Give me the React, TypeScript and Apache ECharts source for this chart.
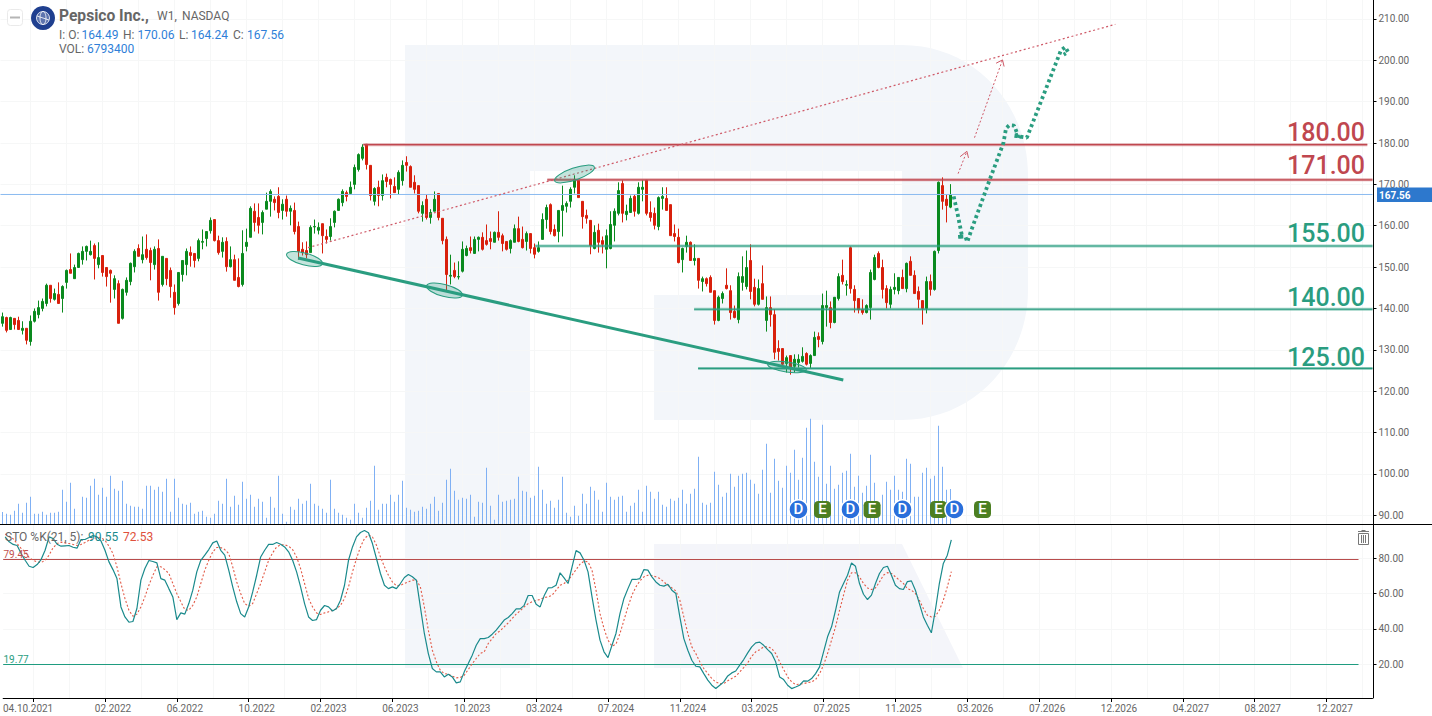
import React, { useEffect, useRef } from "react";
import * as echarts from "echarts";

const TOTAL_SLOTS = 343;
const tickLabels = ["04.10.2021","02.2022","06.2022","10.2022","02.2023","06.2023","10.2023","03.2024","07.2024","11.2024","03.2025","07.2025","11.2025","03.2026","07.2026","12.2026","04.2027","08.2027","12.2027"];
const priceTicks = [90,100,110,120,130,140,150,160,170,180,190,200,210];
const stochTicks = [20,40,60,80];

// weekly [open, close, low, high]
const ohlc: number[][] = [
[136.4,138.0,135.6,139.0],[137.8,134.7,134.2,138.0],[134.9,137.8,134.9,138.0],[137.6,136.1,134.9,137.6],[137.1,134.9,134.9,138.0],[134.7,135.2,133.7,136.9],[135.2,132.3,131.3,135.2],[132.0,136.9,131.0,138.3],[136.9,139.3,136.6,140.0],[138.5,140.2,137.6,141.9],
[140.0,141.7,139.3,142.4],[141.2,145.6,140.5,146.0],[145.6,142.4,141.4,145.6],[142.2,143.6,141.9,144.8],[143.4,141.2,141.2,146.3],[142.4,145.3,139.0,145.6],[146.3,149.2,144.8,149.4],[149.4,148.5,148.5,153.3],[147.2,149.9,147.2,150.6],[149.9,153.3,149.9,153.5],
[151.8,153.8,150.6,155.0],[153.8,155.0,151.6,155.2],[153.0,153.8,152.8,156.4],[155.2,152.1,147.0,155.7],[150.6,152.3,149.7,156.0],[152.8,148.7,147.7,152.8],[149.9,147.7,145.3,149.9],[149.2,148.5,141.4,149.4],[144.6,147.2,142.4,148.0],[146.0,136.4,136.4,146.8],
[137.6,144.6,137.3,144.8],[143.9,146.8,143.1,147.5],[146.5,150.9,145.6,151.1],[150.1,153.8,148.7,154.3],[154.5,152.6,152.6,155.5],[151.8,153.0,150.9,157.4],[154.3,152.3,151.8,157.9],[154.0,151.1,146.8,154.7],[150.6,154.3,149.4,155.0],[154.5,143.9,141.9,156.7],
[145.8,152.6,145.3,152.6],[152.1,147.2,145.6,152.1],[149.2,145.3,142.6,149.9],[143.9,140.2,138.5,145.8],[141.2,148.7,140.7,148.7],[148.2,151.6,146.5,151.6],[150.6,153.8,148.0,154.5],[153.5,152.8,150.1,155.0],[153.3,151.6,149.9,153.3],[152.1,156.4,151.4,156.9],
[156.0,156.2,154.3,159.1],[156.9,158.6,155.0,158.6],[158.8,161.3,158.1,162.0],[161.5,156.4,156.2,161.5],[156.4,153.5,153.0,157.6],[153.8,156.0,152.3,157.2],[156.2,150.1,148.9,157.2],[150.1,151.8,149.9,155.0],[151.8,146.8,146.8,153.0],[147.5,145.3,145.1,152.1],
[145.8,153.3,145.3,158.9],[155.0,156.0,153.8,159.3],[157.2,164.2,157.2,164.7],[163.5,160.8,158.6,165.4],[162.0,160.1,158.1,165.4],[160.8,163.2,157.9,163.7],[164.0,165.9,164.0,168.0],[165.9,168.3,162.2,168.8],[166.4,165.6,163.7,167.1],[167.1,163.2,161.8,169.3],
[163.7,165.2,161.5,166.4],[166.4,163.5,162.2,167.3],[163.5,164.2,160.1,164.9],[163.7,158.6,157.9,165.6],[159.8,153.8,151.8,161.0],[154.3,153.5,152.8,156.0],[154.0,153.0,152.1,156.2],[153.5,159.6,153.5,160.1],[159.7,159.8,158.1,161.5],[158.9,159.6,157.9,160.8],
[160.5,157.6,153.3,160.5],[157.4,156.7,155.7,159.1],[157.4,159.8,156.4,161.8],[160.8,163.5,159.6,163.7],[163.7,166.4,163.7,166.6],[165.6,168.3,164.7,168.8],[168.0,167.1,165.9,168.5],[167.8,169.3,167.8,170.7],[170.0,174.1,168.8,174.8],[173.6,177.2,173.1,177.5],
[176.3,179.0,175.8,179.7],[179.7,174.8,173.6,179.7],[174.6,167.3,166.1,174.6],[165.9,169.0,164.9,169.3],[169.3,167.3,164.7,170.9],[167.3,170.9,166.1,172.4],[171.7,170.7,169.3,172.6],[171.2,170.0,166.6,171.4],[169.5,168.0,168.0,171.7],[168.8,172.9,167.6,173.4],
[170.9,174.6,169.7,175.8],[175.3,174.6,173.1,176.8],[174.3,169.3,169.3,174.6],[170.5,168.8,167.8,172.2],[169.7,163.5,163.0,169.7],[163.0,164.9,161.0,165.9],[166.4,162.0,161.5,167.6],[162.0,163.2,160.5,164.0],[163.5,166.4,163.5,168.3],[167.8,162.0,161.3,167.8],
[161.8,156.4,155.5,161.8],[156.7,148.2,144.4,157.4],[147.8,148.0,145.8,153.0],[149.2,147.7,147.3,151.1],[147.6,147.7,147.0,151.4],[149.0,154.3,148.7,156.2],[152.8,154.5,152.6,155.2],[154.7,154.0,153.3,157.4],[153.3,156.7,153.3,157.4],[156.7,157.2,153.8,157.4],
[157.2,154.3,154.0,158.4],[156.4,155.5,155.2,160.3],[156.9,156.2,154.3,158.6],[156.0,158.4,156.0,158.6],[158.4,157.2,156.4,163.5],[157.6,155.7,153.8,158.1],[156.2,154.3,154.0,156.2],[154.5,156.4,153.3,156.7],[156.0,159.3,156.0,160.3],[159.3,156.2,156.0,162.2],
[156.7,154.7,154.5,159.8],[156.2,158.1,154.0,158.6],[158.1,154.5,153.3,158.1],[154.7,153.1,152.1,155.7],[153.8,154.7,153.5,156.2],[156.7,161.5,156.7,163.0],[161.5,164.4,159.3,165.1],[165.1,158.6,157.9,165.4],[159.1,157.6,157.4,160.3],[158.6,163.7,156.0,163.7],
[163.7,164.9,157.4,169.7],[164.7,165.4,163.2,165.9],[165.9,168.8,164.4,169.3],[169.3,171.2,167.8,172.2],[171.0,166.8,166.8,171.0],[165.9,162.2,159.3,165.9],[162.5,161.8,160.5,163.9],[161.3,155.2,153.1,161.3],[154.5,158.4,154.3,160.1],[158.9,156.0,153.5,160.5],
[156.4,155.5,153.3,157.4],[154.3,157.6,149.7,159.1],[154.5,160.3,154.3,163.5],[160.1,163.5,156.2,164.2],[163.0,168.5,162.5,170.5],[170.2,163.0,160.8,171.0],[162.7,163.5,161.3,165.1],[163.2,166.6,163.2,167.3],[167.1,163.5,162.2,167.6],[163.0,169.3,162.7,170.5],
[168.8,169.3,165.9,171.0],[171.0,163.0,162.5,171.0],[163.2,162.0,161.0,165.9],[163.0,160.1,159.1,164.4],[159.8,166.8,158.9,167.1],[166.6,167.1,163.9,169.3],[166.6,163.7,163.7,169.3],[165.1,157.6,157.6,165.1],[158.1,157.4,156.2,160.3],[157.2,151.1,150.9,159.3],
[151.8,154.5,148.7,154.7],[155.0,156.0,153.5,157.6],[156.0,151.6,151.6,156.2],[151.6,152.1,150.4,155.5],[152.1,146.8,144.8,152.1],[146.5,147.2,144.1,147.7],[147.2,146.0,145.3,147.5],[147.5,143.9,143.9,148.0],[144.3,137.1,136.1,144.3],[137.1,142.7,136.9,143.1],
[142.4,143.6,141.2,144.1],[145.6,144.8,144.6,149.7],[144.3,139.0,137.3,145.6],[139.3,137.8,137.6,140.7],[137.3,147.7,136.4,148.7],[146.3,147.7,144.3,152.6],[145.3,149.9,144.6,154.0],[151.6,144.1,142.2,155.5],[145.1,141.0,140.5,147.2],[141.0,144.8,140.7,147.0],
[146.0,142.2,142.2,150.4],[137.1,140.2,134.4,142.9],[140.2,138.5,135.6,142.9],[138.5,129.4,127.7,139.8],[130.3,129.6,127.4,132.3],[130.3,126.5,126.0,130.3],[126.7,128.1,124.5,128.6],[128.6,125.5,124.0,128.6],[126.0,127.7,124.5,128.9],[126.9,127.7,125.7,128.9],
[127.2,128.4,126.9,130.6],[129.1,126.5,126.2,129.4],[126.7,128.6,125.5,128.9],[128.6,133.0,128.6,134.4],[133.2,132.5,130.6,134.2],[132.0,140.7,131.3,143.6],[140.2,140.7,135.6,144.3],[140.2,136.6,135.2,141.7],[136.6,142.7,136.4,142.7],[142.4,147.7,141.9,148.5],
[148.0,146.5,145.8,151.8],[145.6,145.8,143.1,146.8],[154.7,144.8,143.6,155.0],[144.6,141.9,139.0,145.6],[142.4,139.7,138.8,142.4],[139.7,139.0,138.5,142.2],[139.0,140.7,138.8,141.0],[140.2,148.7,137.3,149.4],[147.0,152.3,146.8,153.0],[153.3,149.9,149.7,153.8],
[149.9,144.6,142.4,151.8],[144.8,141.4,140.0,145.6],[141.0,144.6,140.0,145.3],[144.6,145.1,143.4,148.5],[144.3,147.5,143.4,147.5],[147.5,144.8,144.8,149.4],[144.8,150.9,143.9,151.1],[151.4,148.0,148.0,152.6],[148.0,143.6,143.6,149.2],[144.1,142.2,140.0,145.3],
[141.9,140.0,136.1,141.9],[140.0,146.5,138.8,147.7],[146.5,144.6,143.1,148.2],[144.6,153.8,144.3,154.0],[154.0,170.5,153.3,170.7],[169.7,165.9,163.9,171.7],[166.4,164.9,160.8,167.6],[164.49,167.56,164.24,170.06],
];

// weekly volume, in lots of 64,700 shares
const volumeLots = [
36,31,28,40,61,34,64,82,31,31,37,28,34,34,37,103,67,124,46,0,82,79,115,136,88,109,82,145,106,100,130,61,55,52,52,46,115,115,103,112,97,136,37,136,79,61,58,64,31,37,40,22,19,31,70,61,136,52,85,58,127,76,88,52,76,67,19,82,49,145,31,7,52,43,76,61,70,121,61,55,46,34,133,46,34,28,19,13,61,34,19,49,70,175,43,61,61,88,67,88,130,49,43,37,40,52,46,61,82,40,64,133,166,100,73,79,76,88,22,67,
64,169,55,13,88,67,70,73,76,142,100,97,79,85,172,103,61,70,49,73,142,34,22,55,25,91,61,112,100,73,37,124,82,73,82,85,37,55,64,103,37,115,97,76,97,58,52,76,70,79,103,61,91,106,202,64,58,64,157,118,82,94,151,112,145,151,154,133,121,91,163,241,94,196,130,109,175,154,223,133,199,289,316,187,142,298,121,175,106,118,154,160,211,112,145,94,115,208,124,23,88,127,103,145,103,97,196,181,82,82,154,169,136,145,295,172,103,105,
];

const stochK = [
92.3,89.5,88.0,87.4,82.8,79.0,75.6,74.9,76.6,79.4,84.7,92.3,91.4,88.1,87.0,87.2,87.4,86.4,85.9,90.8,90.8,91.9,93.1,92.3,90.0,84.7,78.1,73.7,68.6,52.5,46.8,43.8,44.2,51.6,67.7,74.3,78.9,78.3,77.5,68.6,67.7,62.9,58.2,45.3,49.1,48.4,54.4,62.0,72.4,79.0,81.9,85.1,88.9,90.0,84.7,81.9,73.4,63.9,55.4,48.7,46.8,52.5,61.0,70.5,80.9,84.7,88.0,88.0,89.1,88.1,86.6,83.8,79.0,72.4,63.9,54.4,46.8,44.8,45.3,50.6,53.3,52.5,50.2,51.6,56.3,64.8,79.0,86.6,92.3,94.8,95.9,94.6,88.5,80.0,71.5,64.8,62.9,63.9,62.9,65.8,69.2,70.9,69.6,67.7,52.5,37.4,26.0,17.5,15.6,15.6,12.7,14.3,12.7,9.3,9.9,15.6,20.3,25.1,30.7,34.5,
34.5,35.1,37.0,39.3,42.1,45.0,46.5,48.7,51.4,51.4,53.4,59.0,59.0,54.0,52.5,58.8,63.3,63.5,64.8,71.9,69.0,65.8,75.3,84.5,83.2,79.0,72.4,58.2,45.0,33.6,27.0,23.7,30.7,37.4,48.7,57.3,62.9,68.1,68.1,68.6,73.7,73.4,69.6,66.7,64.8,64.3,65.4,62.0,60.1,46.8,34.5,27.9,22.2,18.8,18.4,14.6,10.9,8.0,6.1,8.0,9.9,13.3,15.0,16.1,19.4,22.6,26.4,29.8,32.1,32.5,30.7,28.2,26.0,21.3,12.7,11.2,8.0,6.1,7.0,8.0,10.5,10.3,11.8,14.6,18.4,27.0,35.5,41.2,50.6,61.0,65.8,70.5,77.5,75.6,65.8,59.7,56.7,59.2,65.8,71.5,74.9,75.6,70.5,64.8,62.9,62.4,66.9,67.3,62.0,54.4,46.8,42.1,37.8,50.6,65.8,77.2,81.9,90.55,
];

const stochD = [
93.8,92.7,91.2,88.5,85.7,83.8,80.6,79.0,78.1,77.7,79.0,81.9,86.1,88.5,89.3,88.9,88.5,88.0,87.4,88.0,89.1,90.4,91.2,91.9,91.9,90.4,87.0,82.8,75.3,65.8,57.3,50.6,47.2,48.4,52.5,58.2,64.8,70.5,75.3,75.3,73.7,71.5,65.8,60.1,55.4,51.0,50.6,53.4,58.2,65.8,73.4,79.0,83.8,86.3,86.3,85.1,82.8,75.3,66.7,60.1,54.4,52.9,54.4,60.1,65.8,72.4,79.0,83.2,86.6,87.8,87.8,87.0,85.1,80.9,74.3,65.8,57.3,52.5,49.1,48.2,49.1,49.7,50.6,51.4,53.4,57.3,63.9,72.4,80.0,86.6,91.4,93.3,92.3,87.6,80.9,75.3,70.5,66.7,64.5,64.8,65.8,66.7,67.7,67.7,63.9,52.5,39.3,27.9,21.3,16.5,14.6,14.3,13.1,12.2,12.4,13.7,16.9,20.3,23.2,26.0,
27.0,31.7,34.5,37.4,38.9,41.2,43.4,45.9,48.4,50.3,52.5,54.4,55.4,56.3,56.7,57.8,58.2,59.2,62.0,64.8,65.8,67.7,70.5,73.7,76.8,78.5,78.1,73.4,62.0,48.7,40.2,33.6,30.2,31.3,37.4,45.0,52.5,59.2,63.9,67.3,69.6,70.5,70.3,69.6,68.6,66.7,64.8,63.3,61.6,56.3,46.8,37.4,29.8,26.0,21.3,17.5,14.6,11.8,9.9,8.9,8.9,10.5,11.8,13.1,15.6,18.0,20.7,24.5,27.0,28.2,29.8,29.8,28.9,26.0,21.3,16.9,12.7,9.9,8.4,8.6,8.9,9.5,9.9,11.2,14.6,19.4,26.0,33.6,41.2,50.6,59.2,67.7,71.9,71.9,69.6,65.8,63.3,62.4,63.3,66.7,70.5,72.0,71.5,69.6,67.7,65.8,62.9,62.0,60.1,56.3,51.6,47.8,46.8,47.2,50.6,56.3,63.9,72.53,
];

// annotations, as [week index, price]
const lastPrice = 167.56;
const resistance180 = [[90.2, 179.6], [341.2, 179.6]];
const resistance171 = [[136.2, 171.1], [342.5, 171.1]];
const support155 = [[133.2, 155.1], [342.5, 155.1]];
const support140 = [[172.9, 139.8], [342.5, 139.8]];
const support125 = [[173.9, 125.5], [342.5, 125.5]];
const risingTrend = [[76.4, 154.7], [278.2, 208.7]];
const fallingTrend = [[73.9, 152.2], [210.2, 122.7]];
const arrowShort = [[238.9, 172.6], [241.1, 178.0]];
const arrowShortHead = [[239.4, 176.7], [241.1, 178.0], [241.5, 176.4]];
const arrowLong = [[243.0, 181.3], [250.0, 200.1]];
const arrowLongHead = [[248.4, 199.3], [250.0, 200.1], [250.4, 198.5]];
const forecastPath = [[237.8,167.1],[238.7,163.2],[239.4,159.8],[239.9,157.4],[238.8,157.3],[240.7,157.4],[241.2,156.1],[242.2,158.9],[246.9,171.4],[250.2,179.9],[250.9,183.6],[251.7,184.3],[252.9,184.2],[253.7,182.3],[253.9,180.9],[254.4,182.1],[252.7,181.8],[256.1,181.3],[264.6,202.4],[265.7,203.2],[266.4,202.0],[265.3,201.4]];
const dividendWeeks = [199, 212, 225, 238];
const earningsWeeks = [205, 217.4, 234, 245];
const eventPrice = 91.4;
const stochUpper = 79.45;
const stochLower = 19.77;
const stochLevelEnd = 339;

const logoPath = "M405 45 L902 45 C975 45 1028 105 1028 175 L1028 290 C1028 360 975 420 902 420 L654 420 L654 295 L902 295 L902 171 L530 171 L530 668 L405 668 Z";

const FONT = "Roboto, sans-serif";
const UP = "#0a8a1e";
const DOWN = "#d8200c";
const RED = "#c0474f";
const TEAL = "#2a9d80";
const GRID = "#f6f7f7";
const AXIS_TEXT = "#666666";

const txt = (text: string, x: number, y: number, fill: string, font: string, textAlign = "left") => ({
  type: "text",
  z: 30,
  silent: true,
  style: { text, x, y, fill, font, textAlign, textVerticalAlign: "middle" },
});

const overlay = (data: number[][], color: string, width: number, extra: any = {}) => ({
  type: "line",
  xAxisIndex: 2,
  yAxisIndex: 0,
  data,
  showSymbol: false,
  symbol: "none",
  silent: true,
  z: 6,
  lineStyle: { color, width, ...extra },
});

const level = (data: number[][], color: string) => [
  overlay(data, color, 3, { opacity: 0.45 }),
  overlay(data, color, 1.2),
];

function buildOption(): any {
  const categories = Array.from({ length: TOTAL_SLOTS }, (_, i) =>
    i % 18 === 7 ? tickLabels[(i - 7) / 18] ?? "" : ""
  );
  const ellipse = (x: number, y: number, rx: number, ry: number, deg: number) => ({
    type: "ellipse",
    x,
    y,
    rotation: (-deg * Math.PI) / 180,
    z: 12,
    silent: true,
    shape: { cx: 0, cy: 0, rx, ry },
    style: { fill: "rgba(42,157,128,0.28)", stroke: TEAL, lineWidth: 1 },
  });
  return {
    animation: false,
    backgroundColor: "#ffffff",
    textStyle: { fontFamily: FONT },
    grid: [
      { left: 0.5, top: 0, width: 1372, height: 524 },
      { left: 0.5, top: 524, width: 1372, height: 174 },
    ],
    xAxis: [
      {
        type: "category",
        gridIndex: 0,
        data: categories,
        axisLine: { show: false },
        axisTick: { show: false },
        axisLabel: { show: false },
        splitLine: { show: true, alignWithLabel: true, interval: (i: number) => i % 9 === 7, lineStyle: { color: GRID, width: 1 } },
      },
      {
        type: "category",
        gridIndex: 1,
        data: categories,
        axisLine: { show: true, onZero: false, lineStyle: { color: "#000", width: 1 } },
        axisTick: { show: true, alignWithLabel: true, length: 4, interval: (i: number) => i % 18 === 7, lineStyle: { color: "#000" } },
        axisLabel: {
          show: true,
          interval: (i: number) => i % 18 === 7,
          margin: 5,
          color: AXIS_TEXT,
          fontSize: 10,
          fontFamily: FONT,
          formatter: (v: string, i: number) => (i === 7 ? `{first|${v}}` : `{rest|${v}}`),
          rich: {
            first: { padding: [0, 10, 0, 0], color: AXIS_TEXT, fontSize: 10, fontFamily: FONT },
            rest: { padding: [0, 0, 0, 16], color: AXIS_TEXT, fontSize: 10, fontFamily: FONT },
          },
        },
        splitLine: { show: true, alignWithLabel: true, interval: (i: number) => i % 9 === 7, lineStyle: { color: GRID, width: 1 } },
      },
      { type: "value", gridIndex: 0, min: -0.5, max: 342.5, show: false },
      { type: "value", gridIndex: 1, min: -0.5, max: 342.5, show: false },
    ],
    yAxis: [
      {
        type: "value",
        gridIndex: 0,
        position: "right",
        offset: 1,
        min: 87.87,
        max: 214.59,
        axisLine: { show: true, onZero: false, lineStyle: { color: "#000", width: 1 } },
        axisTick: { show: true, length: 3, customValues: priceTicks, lineStyle: { color: "#000" } },
        axisLabel: {
          color: AXIS_TEXT, fontSize: 10, fontFamily: FONT, margin: 5,
          customValues: priceTicks,
          formatter: (v: number) => v.toFixed(2),
        },
        splitLine: { show: true, lineStyle: { color: GRID, width: 1 } },
      },
      { type: "value", gridIndex: 0, min: 0, max: 1572, show: false },
      {
        type: "value",
        gridIndex: 1,
        position: "right",
        offset: 1,
        min: 0.74,
        max: 99.62,
        axisLine: { show: true, onZero: false, lineStyle: { color: "#000", width: 1 } },
        axisTick: { show: true, length: 3, customValues: stochTicks, lineStyle: { color: "#000" } },
        axisLabel: {
          color: AXIS_TEXT, fontSize: 10, fontFamily: FONT, margin: 5,
          customValues: stochTicks,
          formatter: (v: number) => v.toFixed(2),
        },
        splitLine: { show: true, lineStyle: { color: GRID, width: 1 } },
      },
    ],
    series: [
      {
        type: "bar",
        xAxisIndex: 0,
        yAxisIndex: 1,
        data: volumeLots,
        barWidth: 1,
        silent: true,
        z: 1,
        itemStyle: { color: "#7fb0f4" },
      },
      overlay([[-0.5, lastPrice], [342.5, lastPrice]], "#8abbf0", 1, {}),
      {
        type: "candlestick",
        xAxisIndex: 0,
        yAxisIndex: 0,
        data: ohlc,
        barWidth: 3,
        silent: true,
        z: 4,
        itemStyle: { color: UP, color0: DOWN, borderColor: UP, borderColor0: DOWN, borderWidth: 1 },
      },
      ...level(resistance180, RED),
      ...level(resistance171, RED),
      ...level(support155, TEAL),
      ...level(support140, TEAL),
      ...level(support125, TEAL),
      overlay(risingTrend, "#cf5a68", 1.2, { type: [2, 2.5] }),
      overlay(fallingTrend, TEAL, 3),
      overlay(arrowShort, "#cf5a68", 1, { type: [2, 2] }),
      overlay(arrowShortHead, "#cf5a68", 1),
      overlay(arrowLong, "#cf5a68", 1, { type: [2, 2] }),
      overlay(arrowLongHead, "#cf5a68", 1),
      overlay(forecastPath, TEAL, 3.8, { type: [3, 3] }),
      {
        type: "scatter",
        xAxisIndex: 2,
        yAxisIndex: 0,
        data: dividendWeeks.map((w) => [w, eventPrice]),
        symbol: "circle",
        symbolSize: 19,
        silent: true,
        z: 8,
        itemStyle: { color: "#2a6fdb", opacity: 1, borderColor: "#fff", borderWidth: 1.5 },
        label: { show: true, position: "inside", formatter: "D", color: "#fff", fontSize: 15, fontWeight: 500, fontFamily: FONT },
      },
      {
        type: "scatter",
        xAxisIndex: 2,
        yAxisIndex: 0,
        data: earningsWeeks.map((w) => [w, eventPrice]),
        symbol: "roundRect",
        symbolSize: 17,
        silent: true,
        z: 7,
        itemStyle: { color: "#4c7f22", opacity: 1 },
        label: { show: true, position: "inside", formatter: "E", color: "#fff", fontSize: 15, fontWeight: 500, fontFamily: FONT },
      },
      {
        type: "line",
        xAxisIndex: 3,
        yAxisIndex: 2,
        data: [[-0.5, stochUpper], [stochLevelEnd, stochUpper]],
        symbol: "none",
        silent: true,
        z: 3,
        lineStyle: { color: "#b84a4a", width: 1 },
      },
      {
        type: "line",
        xAxisIndex: 3,
        yAxisIndex: 2,
        data: [[-0.5, stochLower], [stochLevelEnd, stochLower]],
        symbol: "none",
        silent: true,
        z: 3,
        lineStyle: { color: "#1f9c80", width: 1 },
      },
      {
        type: "line",
        xAxisIndex: 1,
        yAxisIndex: 2,
        data: stochD,
        symbol: "none",
        silent: true,
        z: 4,
        lineStyle: { color: "#e25a47", width: 1.1, type: [2, 2] },
      },
      {
        type: "line",
        xAxisIndex: 1,
        yAxisIndex: 2,
        data: stochK,
        symbol: "none",
        silent: true,
        z: 5,
        lineStyle: { color: "#1a8a8c", width: 1.2 },
      },
    ],
    graphic: {
      elements: [
        { type: "rKeyLogo", x: 0, y: 0, z: -1, silent: true, style: { fill: "#f3f6fa" } },
        { type: "polygon", z: -1, silent: true, shape: { points: [[654, 544], [902, 544], [963, 668], [654, 668]] }, style: { fill: "#f4f5fa" } },
        ellipse(304.5, 259, 18.5, 6, 15),
        ellipse(444.5, 290.5, 18.5, 6, 15),
        ellipse(574.5, 174, 21, 6, -19),
        ellipse(787, 367, 19.5, 5, 8),
        { type: "line", z: 25, silent: true, shape: { x1: 0, y1: 524.5, x2: 1432, y2: 524.5 }, style: { stroke: "#000", lineWidth: 1 } },
        { type: "rect", z: 25, silent: true, shape: { x: 1377, y: 187.5, width: 55, height: 14.5 }, style: { fill: "#2d78cd" } },
        txt("167.56", 1379, 195, "#ffffff", `700 10px ${FONT}`),
        txt("180.00", 1365, 132.5, RED, `500 25px ${FONT}`, "right"),
        txt("171.00", 1365, 165.5, RED, `500 25px ${FONT}`, "right"),
        txt("155.00", 1365, 233, TEAL, `500 25px ${FONT}`, "right"),
        txt("140.00", 1365, 297.5, TEAL, `500 25px ${FONT}`, "right"),
        txt("125.00", 1365, 357, TEAL, `500 25px ${FONT}`, "right"),
        { type: "rect", z: 25, silent: true, shape: { x: 7.5, y: 9.5, width: 15, height: 16, r: 3 }, style: { fill: "#fff", stroke: "#eaeaea", lineWidth: 1 } },
        { type: "line", z: 26, silent: true, shape: { x1: 10, y1: 17.5, x2: 20, y2: 17.5 }, style: { stroke: "#b5b5b5", lineWidth: 2 } },
        { type: "circle", z: 25, silent: true, shape: { cx: 43, cy: 18, r: 12 }, style: { fill: "#1f3f8f" } },
        { type: "circle", z: 26, silent: true, shape: { cx: 43, cy: 18, r: 6.5 }, style: { fill: "rgba(255,255,255,0.28)", stroke: "rgba(255,255,255,0.8)", lineWidth: 1 } },
        { type: "ellipse", z: 26, silent: true, shape: { cx: 43, cy: 18, rx: 3, ry: 6.5 }, style: { fill: "none", stroke: "rgba(255,255,255,0.8)", lineWidth: 1 } },
        { type: "line", z: 26, silent: true, shape: { x1: 37, y1: 16, x2: 49, y2: 20 }, style: { stroke: "rgba(255,255,255,0.8)", lineWidth: 1 } },
        txt("Pepsico Inc.,", 59, 15.5, "#666666", `700 15.6px ${FONT}`),
        txt("W1,", 157, 16, "#666666", `12px ${FONT}`),
        txt("NASDAQ", 182, 16, "#666666", `12px ${FONT}`),
        txt("I: O:", 59, 34.5, "#666666", `12px ${FONT}`),
        txt("164.49", 81.5, 34.5, "#2f7fd8", `12px ${FONT}`),
        txt("H:", 123, 34.5, "#666666", `12px ${FONT}`),
        txt("170.06", 137.5, 34.5, "#2f7fd8", `12px ${FONT}`),
        txt("L:", 179, 34.5, "#666666", `12px ${FONT}`),
        txt("164.24", 191, 34.5, "#2f7fd8", `12px ${FONT}`),
        txt("C:", 233, 34.5, "#666666", `12px ${FONT}`),
        txt("167.56", 247, 34.5, "#2f7fd8", `12px ${FONT}`),
        txt("VOL:", 59, 48.5, "#666666", `12px ${FONT}`),
        txt("6793400", 87, 48.5, "#2f7fd8", `12px ${FONT}`),
        txt("STO %K(21, 5):", 5, 536.5, "#666666", `12px ${FONT}`),
        txt("90.55", 88, 536.5, "#1a8a8c", `12px ${FONT}`),
        txt("72.53", 123, 536.5, "#e0503c", `12px ${FONT}`),
        txt("79.45", 3.5, 554.5, "#c0504d", `10px ${FONT}`),
        txt("19.77", 3.5, 659.5, "#2a9d80", `10px ${FONT}`),
        // trash icon
        { type: "rect", z: 25, silent: true, shape: { x: 1358.5, y: 533.5, width: 10, height: 11 }, style: { fill: "none", stroke: "#777", lineWidth: 1 } },
        { type: "line", z: 25, silent: true, shape: { x1: 1358, y1: 531.5, x2: 1369, y2: 531.5 }, style: { stroke: "#777", lineWidth: 1 } },
        { type: "line", z: 25, silent: true, shape: { x1: 1361.5, y1: 530.5, x2: 1365.5, y2: 530.5 }, style: { stroke: "#777", lineWidth: 1 } },
        { type: "line", z: 25, silent: true, shape: { x1: 1361.5, y1: 535, x2: 1361.5, y2: 543 }, style: { stroke: "#777", lineWidth: 1 } },
        { type: "line", z: 25, silent: true, shape: { x1: 1363.5, y1: 535, x2: 1363.5, y2: 543 }, style: { stroke: "#777", lineWidth: 1 } },
        { type: "line", z: 25, silent: true, shape: { x1: 1365.5, y1: 535, x2: 1365.5, y2: 543 }, style: { stroke: "#777", lineWidth: 1 } },
      ],
    },
  };
}

export default function App() {
  const ref = useRef<HTMLDivElement>(null);
  useEffect(() => {
    if (!ref.current) return;
    echarts.graphic.registerShape("rKeyLogo", echarts.graphic.extendPath(logoPath as any, {} as any) as any);
    const chart = echarts.init(ref.current, undefined, { renderer: "svg", width: 1432, height: 716 });
    chart.setOption(buildOption());
    return () => chart.dispose();
  }, []);
  return (
    <div
      ref={ref}
      style={{ position: "fixed", left: 0, top: 0, width: 1432, height: 716, background: "#fff" }}
    />
  );
}
